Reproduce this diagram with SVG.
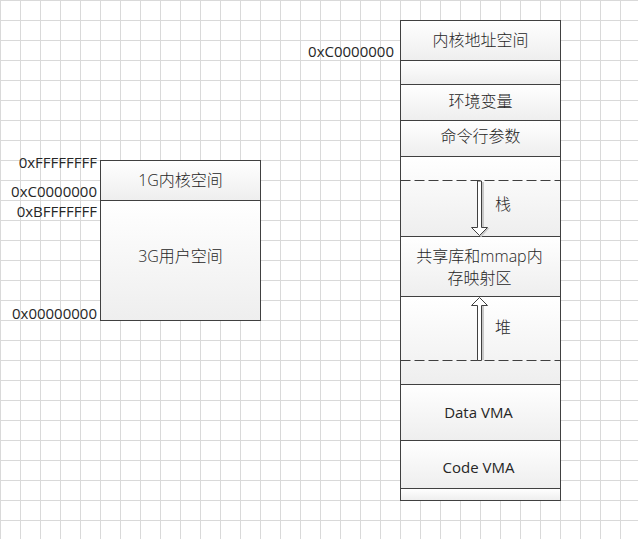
<svg xmlns="http://www.w3.org/2000/svg" width="638" height="539" viewBox="0 0 638 539">
<defs>
<pattern id="grid" x="0" y="0" width="20" height="20" patternUnits="userSpaceOnUse">
<path d="M0.5 0V20M0 0.5H20" stroke="#d9d9d9" stroke-width="1" fill="none"/>
</pattern>
<linearGradient id="fill" x1="0" y1="0" x2="0" y2="1">
<stop offset="0" stop-color="#ffffff"/>
<stop offset="1" stop-color="#eeeeee"/>
</linearGradient>
</defs>
<style>
.cell{fill:url(#fill);stroke:#404040;stroke-width:1}
.dash{stroke:#404040;stroke-width:1;stroke-dasharray:10 4;fill:none}
.t{font-family:"Segoe UI","Open Sans","Noto Sans CJK SC",sans-serif;font-size:15px;fill:#262626}
.cjk{font-size:16px;font-weight:300}
.c{text-anchor:middle}
.r{text-anchor:end}
.arrow{fill:#ffffff;stroke:#404040;stroke-width:1}
.shadow{fill:#c8c8c8;stroke:none}
</style>
<rect x="0" y="0" width="638" height="539" fill="#ffffff"/>
<rect x="0" y="0" width="638" height="539" fill="url(#grid)"/>

<g id="left-space">
<rect class="cell" x="100.5" y="160.5" width="160" height="40"/>
<rect class="cell" x="100.5" y="200.5" width="160" height="120"/>
<text class="t cjk c" x="180.5" y="186">1G内核空间</text>
<text class="t cjk c" x="180.5" y="262">3G用户空间</text>
<text class="t r" x="97" y="168">0xFFFFFFFF</text>
<text class="t r" x="97" y="197">0xC0000000</text>
<text class="t r" x="97" y="217">0xBFFFFFFF</text>
<text class="t r" x="97" y="319">0x00000000</text>
</g>

<g id="process-space">
<rect class="cell" x="400.5" y="20.5" width="160" height="40"/>
<rect class="cell" x="400.5" y="60.5" width="160" height="24"/>
<rect class="cell" x="400.5" y="84.5" width="160" height="36"/>
<rect class="cell" x="400.5" y="120.5" width="160" height="36"/>
<rect class="cell" x="400.5" y="156.5" width="160" height="80"/>
<rect class="cell" x="400.5" y="236.5" width="160" height="60"/>
<rect class="cell" x="400.5" y="296.5" width="160" height="88"/>
<rect class="cell" x="400.5" y="384.5" width="160" height="56"/>
<rect class="cell" x="400.5" y="440.5" width="160" height="48"/>
<rect class="cell" x="400.5" y="488.5" width="160" height="12"/>
<path class="dash" d="M400.5 180.5H560.5"/>
<path class="dash" d="M400.5 360.5H560.5"/>
<text class="t r" x="394" y="57">0xC0000000</text>
<text class="t cjk c" x="480.5" y="46">内核地址空间</text>
<text class="t cjk c" x="480.5" y="107">环境变量</text>
<text class="t cjk c" x="480.5" y="142">命令行参数</text>
<text class="t cjk c" x="479.5" y="262">共享库和mmap内</text>
<text class="t cjk c" x="479.5" y="284">存映射区</text>
<text class="t c" x="478.5" y="418">Data VMA</text>
<text class="t c" x="478.5" y="473">Code VMA</text>
<text class="t cjk c" x="503" y="210">栈</text>
<text class="t cjk c" x="503" y="333">堆</text>
</g>

<g id="connectors">
<polygon class="shadow" points="481.5,182 484,182 484,228 489.5,228 481,237.5 480,236"/>
<polygon class="arrow" points="477.5,181 481.5,181 481.5,227.5 487.5,227.5 479.5,235.5 471.5,227.5 477.5,227.5"/>
<polygon class="shadow" points="481.5,305 484,305 484,360 481.5,360"/>
<polygon class="arrow" points="477.5,360.5 481.5,360.5 481.5,305.5 487.5,305.5 479.5,297.5 471.5,305.5 477.5,305.5"/>
</g>
</svg>
